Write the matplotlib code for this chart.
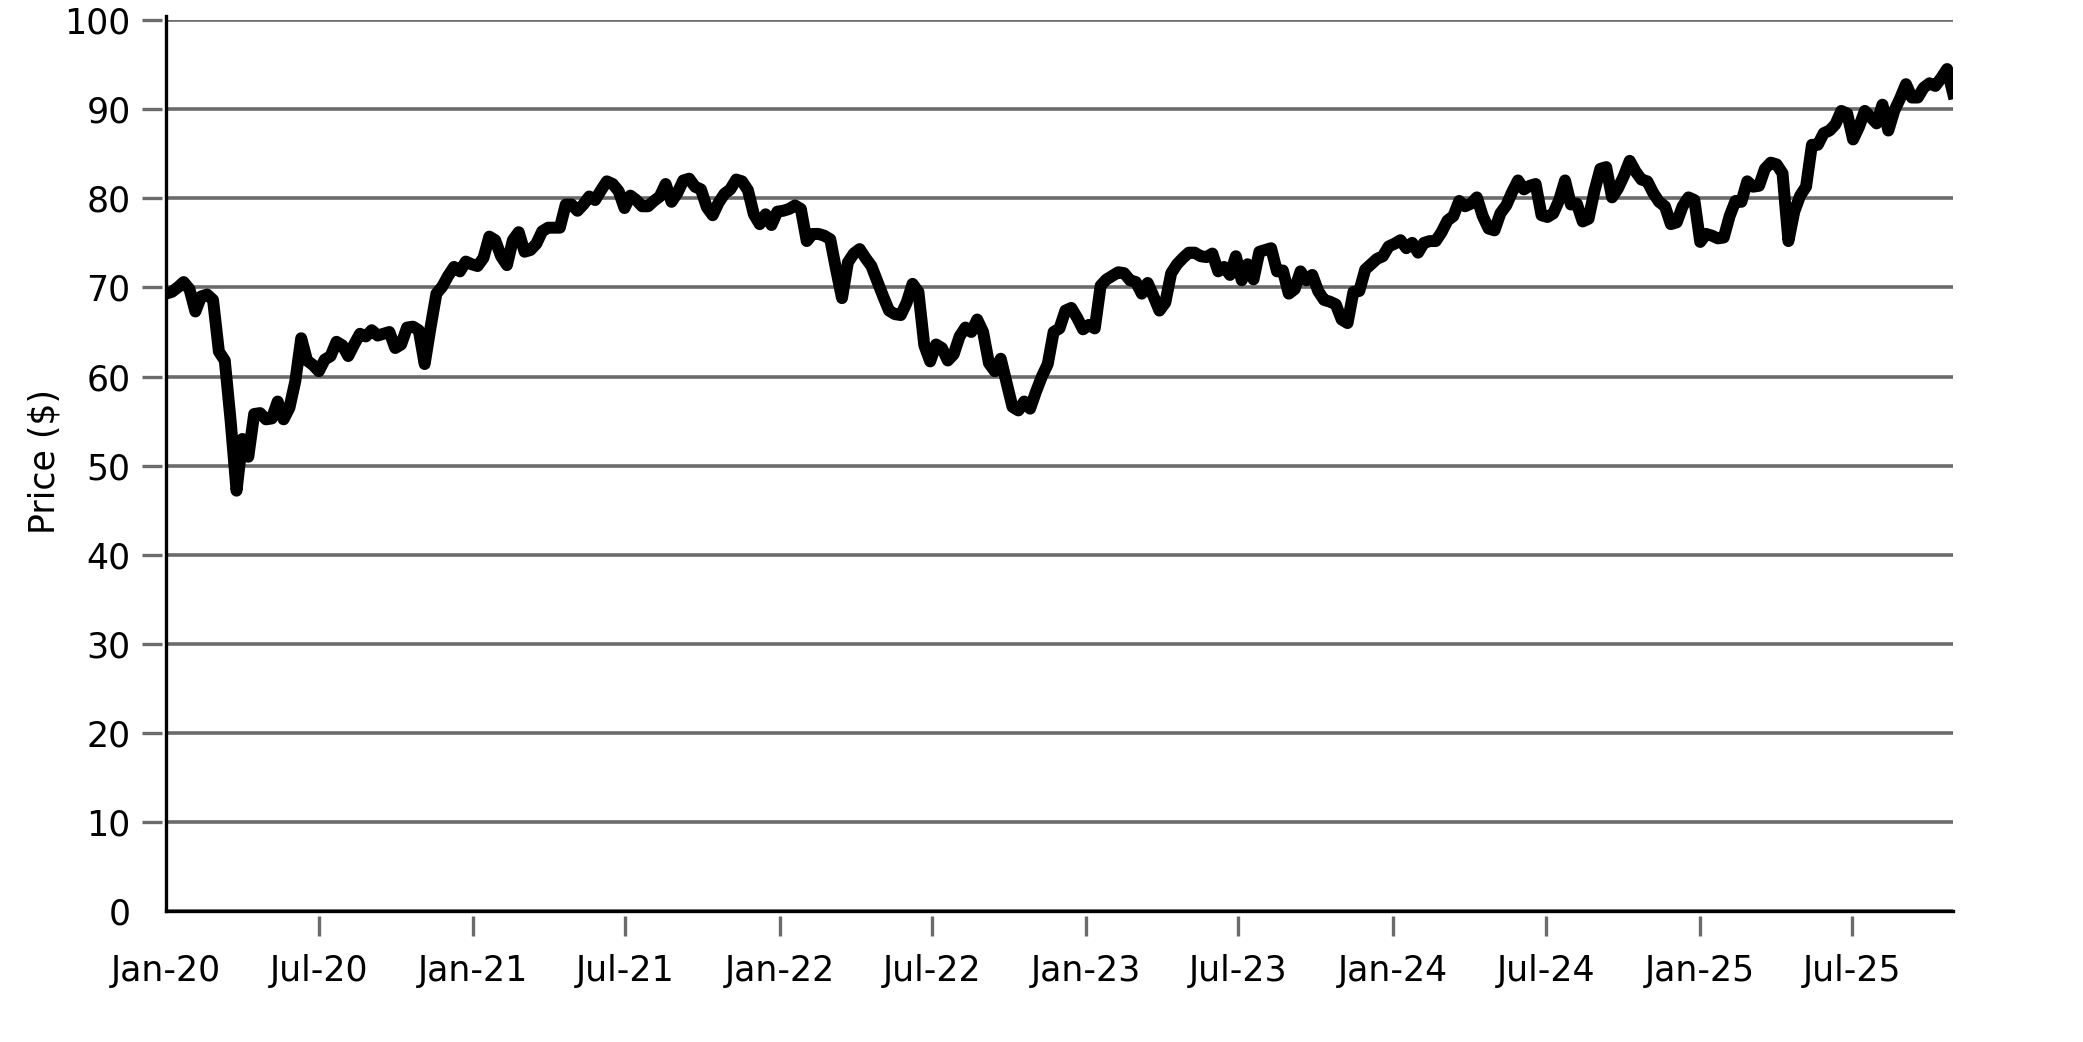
import matplotlib
matplotlib.use('Agg')
import matplotlib.pyplot as plt
import pandas as pd

# Weekly closing prices, one list per calendar year (weeks start Wed 2020-01-01)
prices_2020 = [69.3, 69.5, 70.0, 70.6, 69.8, 67.3, 69.0, 69.2, 68.6, 62.8,
               61.8, 55.0, 47.2, 53.0, 51.0, 55.8, 55.9, 55.2, 55.3, 57.2,
               55.2, 56.5, 59.5, 64.3, 61.8, 61.3, 60.6, 61.9, 62.3, 63.9,
               63.5, 62.3, 63.6, 64.8, 64.5, 65.2, 64.6, 64.8, 65.0, 63.2,
               63.6, 65.5, 65.6, 65.2, 61.4, 65.5, 69.3, 70.1, 71.3, 72.3,
               71.8, 72.9, 72.6]
prices_2021 = [72.4, 73.3, 75.7, 75.3, 73.5, 72.5, 75.3,
               76.2, 74.0, 74.2, 74.9, 76.3, 76.7, 76.7, 76.7, 79.3, 79.3,
               78.6, 79.3, 80.2, 79.8, 80.9, 81.9, 81.6, 80.8, 78.9, 80.3,
               79.8, 79.1, 79.1, 79.7, 80.2, 81.6, 79.6, 80.6, 82.0, 82.2,
               81.3, 81.0, 79.0, 78.1, 79.5, 80.5, 81.0, 82.1, 81.9, 80.9,
               78.2, 77.1, 78.2, 77.0, 78.5]
prices_2022 = [78.6, 78.8, 79.2, 78.8, 75.2,
               76.0, 76.0, 75.8, 75.4, 72.0, 68.8, 72.8, 73.8, 74.3, 73.3,
               72.4, 70.7, 69.0, 67.4, 67.0, 66.9, 68.3, 70.4, 69.5, 63.5,
               61.7, 63.6, 63.2, 61.8, 62.5, 64.5, 65.5, 65.0, 66.4, 65.0,
               61.5, 60.6, 62.0, 59.3, 56.6, 56.2, 57.2, 56.4, 58.3, 60.0,
               61.4, 65.0, 65.4, 67.4, 67.7, 66.6, 65.3]
prices_2023 = [65.8, 65.4, 70.2,
               70.9, 71.3, 71.7, 71.6, 70.8, 70.6, 69.3, 70.5, 69.0, 67.4,
               68.3, 71.6, 72.6, 73.3, 73.9, 73.9, 73.5, 73.4, 73.8, 71.8,
               72.3, 71.4, 73.5, 70.8, 72.6, 70.9, 74.0, 74.2, 74.4, 71.8,
               71.9, 69.3, 69.8, 71.8, 70.8, 71.4, 69.6, 68.6, 68.4, 68.1,
               66.4, 66.0, 69.5, 69.6, 72.0, 72.6, 73.2, 73.5, 74.6]
prices_2024 = [74.9,
               75.3, 74.4, 75.0, 73.9, 75.0, 75.2, 75.2, 76.2, 77.5, 78.0,
               79.7, 79.1, 79.4, 80.1, 78.0, 76.6, 76.4, 78.3, 79.2, 80.7,
               82.0, 81.0, 81.4, 81.6, 78.1, 77.9, 78.3, 79.8, 82.0, 79.3,
               79.4, 77.4, 77.7, 80.8, 83.3, 83.5, 80.1, 81.1, 82.5, 84.2,
               83.0, 82.1, 81.9, 80.6, 79.6, 79.1, 77.1, 77.3, 79.1, 80.1,
               79.8]
prices_2025 = [75.1, 76.0, 75.8, 75.5, 75.6, 78.0, 79.7, 79.6, 81.9,
               81.3, 81.4, 83.3, 84.0, 83.8, 82.8, 75.2, 78.5, 80.3, 81.3,
               86.0, 86.0, 87.3, 87.6, 88.3, 89.8, 89.5, 86.6, 88.0, 89.8,
               89.1, 88.4, 90.5, 87.6, 89.8, 91.2, 92.8, 91.3, 91.3, 92.4,
               92.9, 92.6, 93.5, 94.5, 91.8]

prices = prices_2020 + prices_2021 + prices_2022 + prices_2023 + prices_2024 + prices_2025
dates = pd.date_range('2020-01-01', periods=len(prices), freq='7D')

y_ticks = list(range(0, 101, 10))
x_ticks = pd.date_range('2020-01-01', '2025-07-01', freq='6MS')
x_labels = [d.strftime('%b-%y') for d in x_ticks]

grey = '#6b6b6b'

fig = plt.figure(figsize=(2083 / 200, 1042 / 200), dpi=200)
ax = fig.add_axes([166 / 2083, 1 - 911.4 / 1042, (1953 - 166) / 2083, (911.4 - 20) / 1042])

ax.plot(dates, prices, color='black', lw=4.3, solid_joinstyle='round', zorder=3)

ax.set_xlim(dates[0], dates[-1])
ax.set_ylim(0, 100)
ax.set_yticks(y_ticks)
ax.set_xticks(x_ticks)
ax.set_xticklabels(x_labels)

ax.yaxis.grid(True, color=grey, lw=1.3)
ax.set_axisbelow(True)

# ticks sit a few pixels away from the axis lines
for side in ['top', 'right']:
    ax.spines[side].set_visible(False)
for side in ['left', 'bottom']:
    ax.spines[side].set_position(('outward', 1.5))
    ax.spines[side].set_color('none')

ax.axhline(0, color='black', lw=1.2, clip_on=False, zorder=4)
ax.axvline(dates[0], ymin=0, ymax=1.004, color='black', lw=1.2, clip_on=False, zorder=4)

ax.tick_params(axis='both', direction='out', length=7.2, width=1.2, color=grey,
               labelcolor='black', labelsize=12.5)
ax.tick_params(axis='y', pad=4.0)
ax.tick_params(axis='x', pad=6.5)

# no tick mark at the origin
ax.xaxis.get_major_ticks()[0].tick1line.set_visible(False)
ax.yaxis.get_major_ticks()[0].tick1line.set_visible(False)

fig.text(45 / 2083, 0.557, 'Price ($)', rotation=90, ha='center', va='center', fontsize=12.5)

fig.savefig('out.png', dpi=200)
